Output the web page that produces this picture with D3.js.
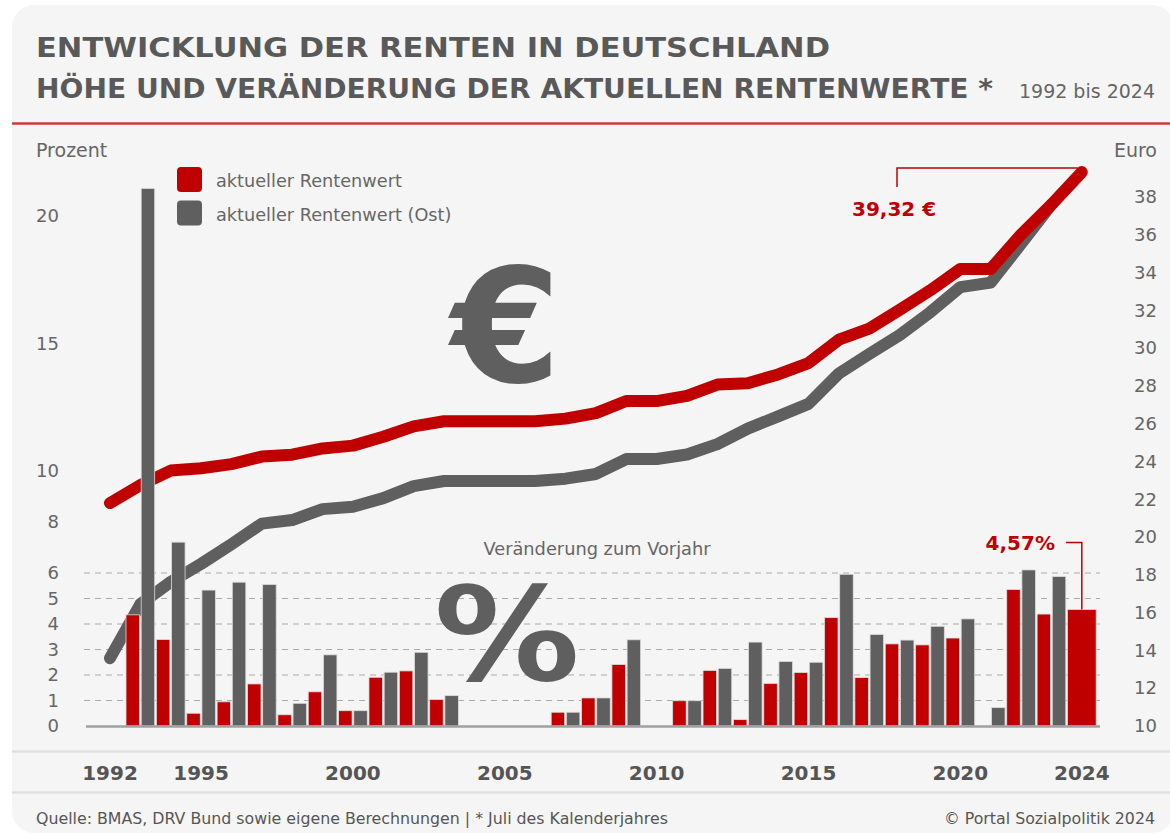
<!DOCTYPE html>
<html><head><meta charset="utf-8">
<script src="https://cdn.jsdelivr.net/npm/d3@7"></script>
<style>html,body{margin:0;padding:0;background:#fff;}svg{display:block;}</style>
</head><body>
<script>
// ---------- data ----------
const years = [1992,1993,1994,1995,1996,1997,1998,1999,2000,2001,2002,2003,2004,2005,2006,2007,2008,2009,2010,2011,2012,2013,2014,2015,2016,2017,2018,2019,2020,2021,2022,2023,2024];
// aktueller Rentenwert (Euro)
const westValues = [21.80,22.75,23.52,23.64,23.86,24.26,24.36,24.69,24.84,25.31,25.86,26.13,26.13,26.13,26.13,26.27,26.56,27.20,27.20,27.47,28.07,28.14,28.61,29.21,30.45,31.03,32.03,33.05,34.19,34.19,36.02,37.60,39.32];
const eastValues = [13.59,16.45,17.63,18.58,19.62,20.71,20.90,21.48,21.61,22.06,22.70,22.97,22.97,22.97,22.97,23.09,23.34,24.13,24.13,24.37,24.92,25.74,26.39,27.05,28.66,29.69,30.69,31.89,33.23,33.47,35.52,37.60,null];
// Veränderung zum Vorjahr (Prozent), 1992 has no bar
const westPct = [null,4.36,3.39,0.50,0.95,1.65,0.44,1.34,0.60,1.91,2.16,1.04,0,0,0,0.54,1.10,2.41,0,0.99,2.18,0.25,1.67,2.10,4.25,1.90,3.22,3.18,3.45,0,5.35,4.39,4.57];
const eastPct = [null,21.08,7.21,5.33,5.64,5.55,0.89,2.79,0.60,2.11,2.89,1.19,0,0,0,0.54,1.10,3.38,0,0.99,2.26,3.29,2.53,2.50,5.95,3.59,3.37,3.91,4.20,0.72,6.12,5.86,null];
const leftTicks = [0,1,2,3,4,5,6,8,10,15,20];
const rightTicks = [10,12,14,16,18,20,22,24,26,28,30,32,34,36,38];
const yearTicks = [1992,1995,2000,2005,2010,2015,2020,2024];
const gridPct = [1,2,3,4,5,6];
const seriesNames = ["aktueller Rentenwert","aktueller Rentenwert (Ost)"];

// ---------- style ----------
const RED = "#c00000", GREY = "#5f5f5f", TXT = "#666", FONT = "DejaVu Sans, Verdana, sans-serif";
const W = 1170, H = 835;

const svg = d3.select("body").append("svg").attr("width", W).attr("height", H)
  .style("font-family", FONT);

svg.append("rect").attr("x",0).attr("y",0).attr("width",W).attr("height",H).attr("fill","#fff");
svg.append("rect").attr("x",12).attr("y",5).attr("width",1162).attr("height",828).attr("rx",22).attr("fill","#f5f5f5");

// title
svg.append("text").attr("x",36).attr("y",57).attr("font-size",27).attr("font-weight","bold")
  .attr("fill","#595959").attr("textLength",794).attr("lengthAdjust","spacingAndGlyphs")
  .text("ENTWICKLUNG DER RENTEN IN DEUTSCHLAND");
svg.append("text").attr("x",36).attr("y",98).attr("font-size",27).attr("font-weight","bold")
  .attr("fill","#595959").attr("textLength",957).attr("lengthAdjust","spacingAndGlyphs")
  .text("HÖHE UND VERÄNDERUNG DER AKTUELLEN RENTENWERTE *");
svg.append("text").attr("x",1155).attr("y",98).attr("font-size",19).attr("fill",TXT)
  .attr("text-anchor","end").text("1992 bis 2024");
svg.append("line").attr("x1",12).attr("x2",1170).attr("y1",123.5).attr("y2",123.5)
  .attr("stroke","#cc3a3a").attr("stroke-width",2.5);

// ---------- scales ----------
const x = d3.scaleBand().domain(years).range([94.8, 1097]).padding(0);
const xs = d3.scaleBand().domain(["west","ost"]).range([0, x.bandwidth()]).paddingInner(0.11).paddingOuter(0.055);
const yP = d3.scaleLinear().domain([0,20]).range([726,216]);
const yE = d3.scaleLinear().domain([10,38]).range([726,197]);
const cx = y => x(y) + x.bandwidth()/2;

// axis titles
svg.append("text").attr("x",36).attr("y",157).attr("font-size",19).attr("fill",TXT).text("Prozent");
svg.append("text").attr("x",1157).attr("y",157).attr("font-size",19).attr("fill",TXT).attr("text-anchor","end").text("Euro");

// left axis
const la = svg.append("g").attr("transform","translate(59,0)")
  .call(d3.axisLeft(yP).tickValues(leftTicks).tickSize(0).tickPadding(0));
la.select(".domain").remove();
la.selectAll("text").attr("font-size",18).attr("fill",TXT).attr("font-family",FONT);

// right axis
const ra = svg.append("g").attr("transform","translate(1157,0)")
  .call(d3.axisLeft(yE).tickValues(rightTicks).tickSize(0).tickPadding(0));
ra.select(".domain").remove();
ra.selectAll("text").attr("font-size",18).attr("fill",TXT).attr("font-family",FONT);

// big symbols
svg.append("text").attr("x",506).attr("y",382).attr("font-size",158).attr("font-weight","bold")
  .attr("fill",GREY).attr("text-anchor","middle").text("€");

// grid
svg.append("g").selectAll("line").data(gridPct).join("line")
  .attr("x1",84).attr("x2",1100).attr("y1",d=>yP(d)).attr("y2",d=>yP(d))
  .attr("stroke","#aaa").attr("stroke-width",1.2).attr("stroke-dasharray","6,5");

svg.append("text").attr("transform","translate(507,680) scale(1.12,1)").attr("font-size",130)
  .attr("font-weight","bold").attr("fill",GREY).attr("text-anchor","middle").text("%");

svg.append("text").attr("x",597).attr("y",555).attr("font-size",17.8).attr("fill",TXT)
  .attr("text-anchor","middle").text("Veränderung zum Vorjahr");

// lines
const line = d3.line().defined(d=>d.v!=null).x(d=>cx(d.year)).y(d=>yE(d.v));
svg.append("path").datum(years.map((y,i)=>({year:y,v:eastValues[i]})))
  .attr("d",line).attr("fill","none").attr("stroke",GREY).attr("stroke-width",12)
  .attr("stroke-linejoin","round").attr("stroke-linecap","round");
svg.append("path").datum(years.map((y,i)=>({year:y,v:westValues[i]})))
  .attr("d",line).attr("fill","none").attr("stroke",RED).attr("stroke-width",12)
  .attr("stroke-linejoin","round").attr("stroke-linecap","round");

// bars
const barData = [];
years.forEach((y,i)=>{
  const single = eastPct[i]==null && westPct[i]!=null;
  if (westPct[i]!=null && westPct[i]>0) barData.push({year:y,s:"west",v:westPct[i],single});
  if (eastPct[i]!=null && eastPct[i]>0) barData.push({year:y,s:"ost",v:eastPct[i],single:false});
});
svg.append("g").selectAll("rect").data(barData).join("rect")
  .attr("x",d=> d.single ? x(d.year)+xs("west") : x(d.year)+xs(d.s))
  .attr("width",d=> d.single ? xs("ost")+xs.bandwidth()-xs("west") : xs.bandwidth())
  .attr("y",d=>yP(d.v)).attr("height",d=>yP(0)-yP(d.v))
  .attr("fill",d=>d.s==="west"?RED:GREY).attr("stroke","#dcdcdc").attr("stroke-width",0.8);

// baseline
svg.append("line").attr("x1",86).attr("x2",1100).attr("y1",726.5).attr("y2",726.5)
  .attr("stroke","#a0a0a0").attr("stroke-width",2.5);

// legend
const lg = svg.append("g");
seriesNames.forEach((n,i)=>{
  lg.append("rect").attr("x",177).attr("y",167+i*33.5).attr("width",25).attr("height",25).attr("rx",4)
    .attr("fill", i===0?RED:GREY);
  lg.append("text").attr("x",216).attr("y",187+i*33.5).attr("font-size",17.7).attr("fill",TXT).text(n);
});

// annotations
const lastI = years.length-1;
const ex = cx(years[lastI]), ey = yE(westValues[lastI]);
svg.append("path").attr("d",`M897,187V${ey-4}H${ex-4}`).attr("fill","none").attr("stroke",RED).attr("stroke-width",1.5);
svg.append("text").attr("x",852).attr("y",215.5).attr("font-size",20).attr("font-weight","bold")
  .attr("fill",RED).text("39,32 €");
const py = yP(westPct[lastI]);
svg.append("path").attr("d",`M1066,542.5H${ex}V${py}`).attr("fill","none").attr("stroke",RED).attr("stroke-width",1.5);
svg.append("text").attr("x",1055).attr("y",550).attr("font-size",20).attr("font-weight","bold")
  .attr("fill",RED).attr("text-anchor","end").text("4,57%");

// separators + x axis
svg.append("line").attr("x1",12).attr("x2",1170).attr("y1",751.5).attr("y2",751.5).attr("stroke","#e0e0e0").attr("stroke-width",2.5);
svg.append("line").attr("x1",12).attr("x2",1170).attr("y1",792.5).attr("y2",792.5).attr("stroke","#e0e0e0").attr("stroke-width",2.5);
const xa = svg.append("g").attr("transform","translate(0,766)")
  .call(d3.axisBottom(x).tickValues(yearTicks).tickSize(0).tickPadding(0));
xa.select(".domain").remove();
xa.selectAll("text").attr("font-size",20).attr("font-weight","bold").attr("fill","#555").attr("font-family",FONT);

// footer
svg.append("text").attr("x",36).attr("y",824).attr("font-size",15.8).attr("fill","#555")
  .text("Quelle: BMAS, DRV Bund sowie eigene Berechnungen | * Juli des Kalenderjahres");
svg.append("text").attr("x",1155).attr("y",824).attr("font-size",15.8).attr("fill","#555").attr("text-anchor","end")
  .text("© Portal Sozialpolitik 2024");
</script>
</body></html>
